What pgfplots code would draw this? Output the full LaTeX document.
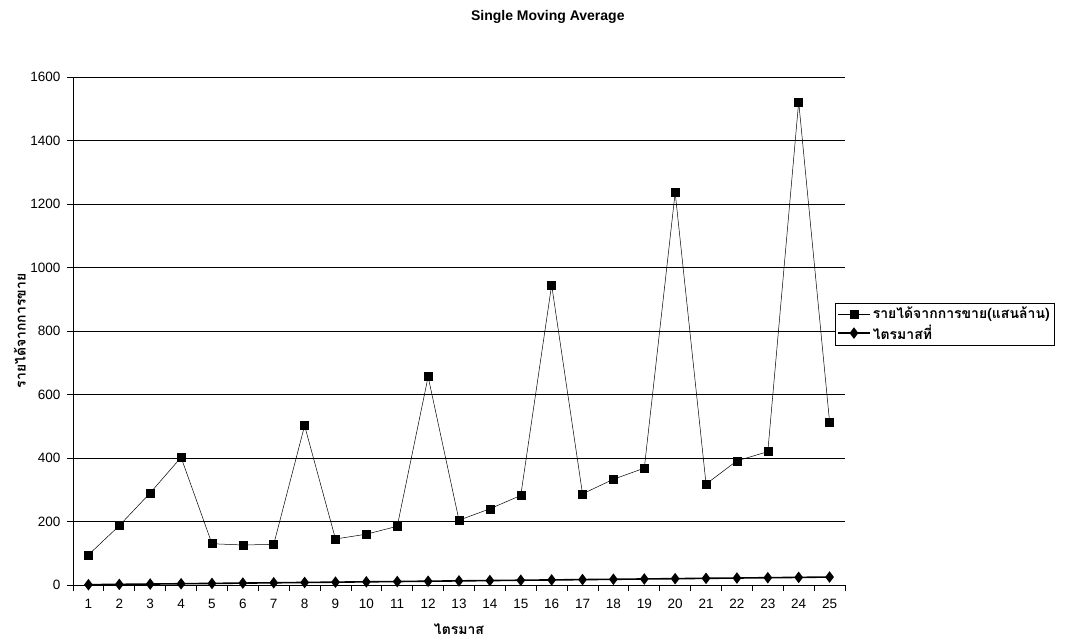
\documentclass[border=0pt]{standalone}
\usepackage{fontspec}
\setmainfont{Liberation Sans}
\newfontfamily\thaifont[Script=Thai]{Loma}
\usepackage{pgfplots}
\pgfplotsset{compat=1.18}

\begin{document}
\fontsize{13pt}{15pt}\selectfont
\begin{tikzpicture}
\path[use as bounding box] (0,0) rectangle (1074pt,641pt);
\begin{axis}[
    at={(73pt,56pt)}, anchor=south west,
    scale only axis,
    width=772pt, height=508pt,
    xmin=0.5, xmax=25.5,
    ymin=0, ymax=1600,
    ytick={0,200,...,1600},
    xtick={0.5,1.5,...,25.5},
    x tick label as interval,
    xticklabels={1,2,3,4,5,6,7,8,9,10,11,12,13,14,15,16,17,18,19,20,21,22,23,24,25},
    axis x line*=bottom, axis y line*=left,
    axis line style={black, line width=0.8pt},
    tick align=outside,
    major tick length=6pt,
    tick style={black, line width=0.8pt},
    ymajorgrids,
    grid style={black, line width=0.8pt},
    /pgf/number format/assume math mode=true,
    /pgf/number format/1000 sep={},
    ticklabel style={font=\fontsize{13.5pt}{15pt}\selectfont},
    yticklabel style={xshift=-2pt},
    xticklabel style={yshift=-4pt},
    title={\bfseries Single Moving Average},
    title style={at={(0.615,1)}, anchor=center, yshift=54pt, font=\fontsize{14pt}{16pt}\selectfont},
    xlabel={\thaifont\bfseries ไตรมาส},
    xlabel style={font=\fontsize{14pt}{16pt}\selectfont, yshift=-6pt},
    ylabel={\thaifont\bfseries รายได้จากการขาย},
    ylabel style={font=\fontsize{14pt}{16pt}\selectfont, yshift=-4pt},
    legend style={at={(0.987,0.555)}, anchor=north west, draw=black, thin,
        font=\thaifont\bfseries\fontsize{14pt}{16pt}\selectfont,
        inner sep=2pt, row sep=0pt},
    legend image code/.code={
        \draw[mark repeat=2, mark phase=2] plot coordinates {(0pt,0pt) (16pt,0pt) (32pt,0pt)};
    },
    legend cell align=left,
    clip=false,
]
\addplot[black, line width=0.5pt, mark=square*, mark size=4pt, mark options={solid}]
 coordinates {
 (1,95) (2,187) (3,290) (4,402) (5,130) (6,126) (7,128) (8,502) (9,145)
 (10,160) (11,185) (12,656) (13,204) (14,240) (15,282) (16,945) (17,287)
 (18,333) (19,368) (20,1236) (21,318) (22,391) (23,420) (24,1522) (25,514)
 };
\addlegendentry{รายได้จากการขาย(แสนล้าน)}
\addplot[black, line width=1.6pt, mark=diamond*, mark size=4.5pt]
 coordinates {
 (1,1) (2,2) (3,3) (4,4) (5,5) (6,6) (7,7) (8,8) (9,9) (10,10) (11,11)
 (12,12) (13,13) (14,14) (15,15) (16,16) (17,17) (18,18) (19,19) (20,20)
 (21,21) (22,22) (23,23) (24,24) (25,25)
 };
\addlegendentry{ไตรมาสที่}
\end{axis}
\end{tikzpicture}
\end{document}
